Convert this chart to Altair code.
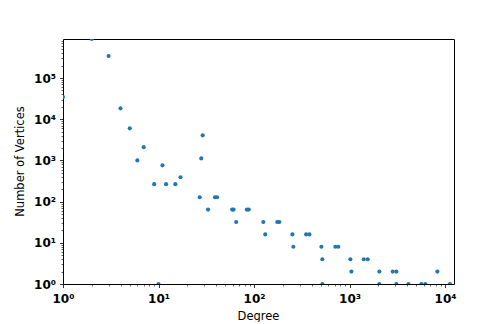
import altair as alt
import pandas as pd

degree = [1, 2, 3, 4, 5, 6, 7, 9, 10, 11, 12, 15, 17, 27, 28, 29, 33, 39, 41,
          59, 61, 65, 84, 88, 125, 131, 175, 184, 252, 258, 351, 380, 507, 519,
          519, 710, 763, 1019, 1045, 1409, 1550, 2050, 2050, 2830, 3090, 3090,
          4130, 5650, 6220, 8300, 11250]
vertices = [34500, 887000, 343000, 18400, 6000, 1000, 2100, 265, 1, 760, 265,
            265, 390, 128, 1120, 4070, 64, 128, 128, 64, 64, 32, 64, 64, 32, 16,
            32, 32, 16, 8, 16, 16, 8, 4, 1, 8, 8, 4, 2, 4, 4, 2, 1, 2, 2, 1, 1,
            1, 1, 2, 1]

x_major = [1, 10, 100, 1000, 10000]
y_major = [1, 10, 100, 1000, 10000, 100000]
minor_mult = [2, 3, 4, 5, 6, 7, 8, 9]
x_minor = [m * d for d in x_major for m in minor_mult if m * d <= 12400]
y_minor = [m * d for d in y_major for m in minor_mult if m * d <= 887000]

df = pd.DataFrame({"degree": degree, "vertices": vertices})

sup = ("datum.value == 1 ? '10⁰' : datum.value == 10 ? '10¹' : "
       "datum.value == 100 ? '10²' : datum.value == 1000 ? '10³' : "
       "datum.value == 10000 ? '10⁴' : datum.value == 100000 ? '10⁵' : ''")

xscale = alt.Scale(type="log", domain=[1, 12400], nice=False)
yscale = alt.Scale(type="log", domain=[1, 887000], nice=False)

FONT = "DejaVu Sans"

main = alt.Chart(df).mark_circle(size=17, color="#1f77b4", opacity=1, clip=True).encode(
    x=alt.X("degree:Q", scale=xscale,
            axis=alt.Axis(orient="bottom", values=x_major, labelExpr=sup, title="Degree",
                          tickSize=3.5, tickWidth=0.8, tickColor="black", domain=False,
                          grid=False, labelFont=FONT, labelFontSize=12, labelFontWeight="bold",
                          labelColor="black", labelPadding=6, labelFlush=False,
                          titleFont=FONT, titleFontSize=11.5, titleFontWeight="normal",
                          titleColor="black", titleX=195, titleY=35.5,
                          titleBaseline="alphabetic", titleAlign="center")),
    y=alt.Y("vertices:Q", scale=yscale,
            axis=alt.Axis(orient="left", values=y_major, labelExpr=sup,
                          title="Number of Vertices",
                          tickSize=3.5, tickWidth=0.8, tickColor="black", domain=False,
                          grid=False, labelFont=FONT, labelFontSize=12, labelFontWeight="bold",
                          labelColor="black", labelPadding=4, labelFlush=False,
                          titleFont=FONT, titleFontSize=11.5, titleFontWeight="normal",
                          titleColor="black", titleX=-43, titleY=122, titleAngle=270,
                          titleBaseline="middle", titleAlign="center")),
)

minor = alt.Chart(df).mark_circle(size=17, opacity=0).encode(
    x=alt.X("degree:Q", scale=xscale,
            axis=alt.Axis(orient="bottom", values=x_minor, labels=False, title=None,
                          tickSize=2, tickWidth=0.6, tickColor="black", domain=False,
                          grid=False)),
    y=alt.Y("vertices:Q", scale=yscale,
            axis=alt.Axis(orient="left", values=y_minor, labels=False, title=None,
                          tickSize=2, tickWidth=0.6, tickColor="black", domain=False,
                          grid=False)),
)

chart = alt.layer(minor, main).resolve_axis(
    x="independent", y="independent"
).properties(
    width=391, height=245,
    autosize=alt.AutoSizeParams(type="none"),
    padding={"left": 55, "top": 31, "right": 34, "bottom": 38},
).configure_view(
    stroke="black", strokeWidth=1
)

chart.save("out.html", embed_options={"renderer": "svg", "actions": False})
